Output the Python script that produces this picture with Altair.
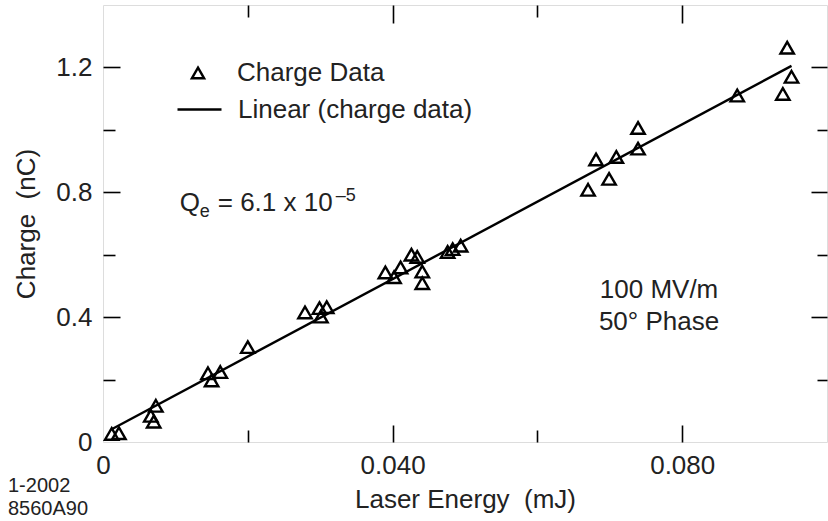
import altair as alt
import pandas as pd

# ---- data -------------------------------------------------------------
energy = [0.0012, 0.0022, 0.0066, 0.0070, 0.0073, 0.0145, 0.0150, 0.0162,
          0.0200, 0.0279, 0.0299, 0.0301, 0.0309, 0.0390, 0.0402, 0.0411,
          0.0426, 0.0434, 0.0441, 0.0441, 0.0476, 0.0483, 0.0494, 0.0670,
          0.0681, 0.0699, 0.0709, 0.0739, 0.0739, 0.0876, 0.0939, 0.0945,
          0.0951]
charge = [0.026, 0.028, 0.084, 0.065, 0.116, 0.220, 0.197, 0.224,
          0.304, 0.415, 0.429, 0.402, 0.432, 0.543, 0.528, 0.559,
          0.600, 0.593, 0.546, 0.509, 0.609, 0.618, 0.629, 0.808,
          0.905, 0.843, 0.913, 1.006, 0.940, 1.110, 1.115, 1.263,
          1.170]

x_domain = [0, 0.1]
y_domain = [0, 1.4]
x_label_values = [0, 0.04, 0.08]
x_tick_values = [0.02, 0.04, 0.06, 0.08]
y_label_values = [0, 0.4, 0.8, 1.2]
y_tick_values = [0.2, 0.4, 0.6, 0.8, 1.0, 1.2]

series_name = "Charge Data"
fit_name = "Linear (charge data)"
x_title = "Laser Energy\u00a0 (mJ)"
y_title = "Charge\u00a0 (nC)"
note_lines = "100 MV/m\n50\u00b0 Phase"
note_pos = {"x": [0.0768], "y": [0.4854]}
qe_pos = {"x": [0.0106], "y": [0.739]}
code_lines = ["1-2002", "8560A90"]

FONT = "Liberation Sans"
TXT = "#222222"
FS = 26
W, H = 724, 437
TRI = "M0,-0.866L1,0.866L-1,0.866Z"

df = pd.DataFrame({"energy": energy, "charge": charge, "series": series_name})
note_df = pd.DataFrame({**note_pos, "text": [note_lines]})
qe_df = pd.DataFrame(qe_pos)

xs = alt.Scale(domain=x_domain, nice=False, zero=False)
ys = alt.Scale(domain=y_domain, nice=False, zero=False)


def tick_axis(orient, offset, values, test, big, small):
    return alt.Axis(orient=orient, offset=offset, values=values, labels=False,
                    domain=False, grid=False, ticks=True,
                    tickSize={"condition": {"test": test, "value": big}, "value": small},
                    tickWidth=1.6, tickColor="black", title=None)


xtest = "round(datum.value*100) % 4 == 0"
ytest = "round(datum.value*10) % 4 == 0"

x_lab_axis = alt.Axis(orient="bottom", values=x_label_values, ticks=False, tickSize=0,
                      domain=False, grid=False,
                      labelExpr="datum.value == 0 ? '0' : format(datum.value, '.3f')",
                      labelFont=FONT, labelFontSize=FS, labelColor=TXT, labelPadding=10,
                      labelFlush=False, labelOverlap=False,
                      title=x_title, titleFont=FONT, titleFontSize=FS,
                      titleFontWeight="normal", titleColor=TXT, titlePadding=8)
y_lab_axis = alt.Axis(orient="left", values=y_label_values, ticks=False, tickSize=0,
                      domain=False, grid=False,
                      labelExpr="datum.value == 0 ? '0' : format(datum.value, '.1f')",
                      labelFont=FONT, labelFontSize=FS, labelColor=TXT, labelPadding=11,
                      labelFlush=False, labelOverlap=False,
                      title=y_title, titleFont=FONT, titleFontSize=FS,
                      titleFontWeight="normal", titleColor=TXT, titlePadding=16)

points = alt.Chart(df).mark_point(filled=False, color="black", strokeWidth=2.4,
                                  size=180, opacity=1).encode(
    x=alt.X("energy:Q", scale=xs, axis=x_lab_axis),
    y=alt.Y("charge:Q", scale=ys, axis=y_lab_axis),
    shape=alt.Shape("series:N", scale=alt.Scale(domain=[series_name], range=[TRI]),
                    legend=alt.Legend(orient="none", legendX=82, legendY=55, title=None,
                                      padding=0, labelFont=FONT, labelFontSize=FS,
                                      labelColor=TXT, labelOffset=26, labelLimit=0,
                                      symbolSize=150,
                                      symbolStrokeWidth=2.4, symbolStrokeColor="black",
                                      symbolFillColor="transparent")),
)

line = alt.Chart(df).transform_regression("energy", "charge").transform_calculate(
    fit=f'"{fit_name}"'
).mark_line(strokeWidth=2.4).encode(
    x=alt.X("energy:Q", scale=xs, axis=tick_axis("top", -H, x_tick_values, xtest, 17, 12)),
    y=alt.Y("charge:Q", scale=ys, axis=tick_axis("right", -W, y_tick_values, ytest, 17, 12)),
    color=alt.Color("fit:N", scale=alt.Scale(domain=[fit_name], range=["black"]),
                    legend=alt.Legend(orient="none", legendX=73, legendY=81, title=None,
                                      padding=0, labelFont=FONT, labelFontSize=FS,
                                      labelColor=TXT, labelOffset=15, labelLimit=0,
                                      symbolType="stroke",
                                      symbolSize=1936, symbolStrokeWidth=2.4)),
)

note = alt.Chart(note_df).mark_text(font=FONT, fontSize=FS, color=TXT, align="center",
                                    baseline="middle", lineBreak="\n", lineHeight=32).encode(
    x=alt.X("x:Q", scale=xs, axis=tick_axis("bottom", -H, x_tick_values, xtest, 18, 12)),
    y=alt.Y("y:Q", scale=ys, axis=tick_axis("left", -W, y_tick_values, ytest, 16, 10)),
    text="text:N",
)


def qe_piece(txt, size, dx, dy):
    return alt.Chart(qe_df).mark_text(font=FONT, fontSize=size, color=TXT, align="left",
                                      baseline="alphabetic", dx=dx, dy=dy).encode(
        x=alt.X("x:Q", scale=xs, axis=None),
        y=alt.Y("y:Q", scale=ys, axis=None),
        text=alt.value(txt),
    )


qe = alt.layer(
    qe_piece("Q", FS, 0, 0),
    qe_piece("e", 18, 20, 6),
    qe_piece("= 6.1 x 10", FS, 38, 0),
    qe_piece("\u20135", 18, 156, -10),
)

chart = alt.layer(points, line, note, qe).resolve_axis(
    x="independent", y="independent"
).properties(
    width=W, height=H,
    autosize=alt.AutoSizeParams(type="none"),
    padding={"left": 103, "top": 5, "right": 1, "bottom": 79},
    title=alt.TitleParams(code_lines, orient="bottom", anchor="start", frame="group",
                          font=FONT, fontSize=20, fontWeight="normal", color=TXT,
                          dx=-95, offset=-36, lineHeight=23),
).configure_view(stroke="black", strokeWidth=2).configure(background="white")

chart.save("out.html", embed_options={"renderer": "svg", "actions": False})
